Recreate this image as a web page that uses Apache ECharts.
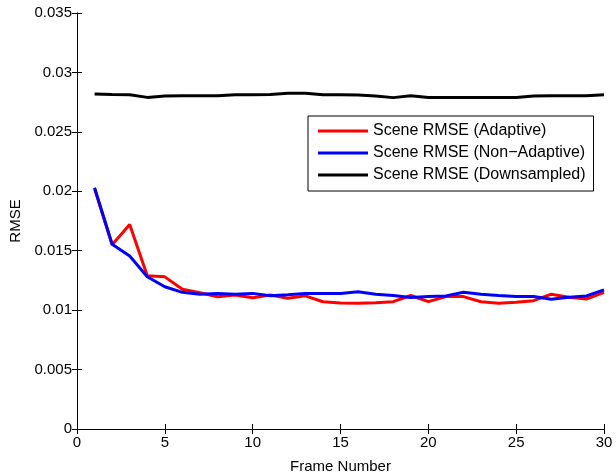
<!DOCTYPE html>
<html>
<head>
<meta charset="utf-8">
<script src="https://cdn.jsdelivr.net/npm/echarts@6/dist/echarts.min.js"></script>
<style>
html,body{margin:0;padding:0;background:#fff;}
#chart{width:616px;height:474px;}
</style>
</head>
<body>
<div id="chart"></div>
<script>
const frames = [1,2,3,4,5,6,7,8,9,10,11,12,13,14,15,16,17,18,19,20,21,22,23,24,25,26,27,28,29,30];
const adaptive = [0.0202,0.0155,0.0172,0.0129,0.0128,0.01175,0.01147,0.01113,0.01127,0.01105,0.01127,0.0110,0.0112,0.01071,0.01060,0.01057,0.01063,0.01071,0.01123,0.01072,0.01114,0.01114,0.01071,0.01057,0.01066,0.0108,0.01134,0.01109,0.01094,0.01149];
const nonAdaptive = [0.0203,0.01554,0.01455,0.01281,0.01197,0.0115,0.01133,0.01141,0.01133,0.01141,0.01122,0.0113,0.0114,0.0114,0.0114,0.01154,0.01134,0.01123,0.01106,0.01114,0.0112,0.01151,0.01134,0.01123,0.01114,0.01114,0.01091,0.01109,0.0112,0.01171];
const downsampled = [0.02818,0.02815,0.02813,0.0279,0.02802,0.02803,0.02803,0.02803,0.02813,0.02813,0.02815,0.02824,0.02824,0.02813,0.02812,0.0281,0.02802,0.02788,0.02804,0.0279,0.0279,0.0279,0.0279,0.0279,0.0279,0.02802,0.02803,0.02803,0.02803,0.02813];
const seriesNames = ['Scene RMSE (Adaptive)','Scene RMSE (Non\u2212Adaptive)','Scene RMSE (Downsampled)'];
const xTicks = [0,5,10,15,20,25,30];
const yTicks = [0,0.005,0.01,0.015,0.02,0.025,0.03,0.035];

const FONT = 'Liberation Sans, Arial, Helvetica, sans-serif';
const pair = (ys) => frames.map((f,i) => [f, ys[i]]);
const axisLine = {show:true, lineStyle:{color:'#000', width:1}};
const tick = {show:true, inside:true, length:5, lineStyle:{color:'#000', width:1}};

const chart = echarts.init(document.getElementById('chart'), null, {renderer:'canvas'});
chart.setOption({
  animation:false,
  backgroundColor:'#fff',
  grid:{left:77, right:12, top:13, bottom:45, containLabel:false, outerBoundsMode:'none'},
  legend:{
    orient:'vertical', left:308, top:116,
    data:seriesNames,
    icon:'rect', itemWidth:50, itemHeight:3, itemGap:6,
    padding:[7,8,8,10],
    borderColor:'#000', borderWidth:1, backgroundColor:'#fff',
    textStyle:{fontFamily:FONT, fontSize:16, color:'#000', lineHeight:16}
  },
  xAxis:[
    {type:'value', min:xTicks[0], max:xTicks[xTicks.length-1], interval:5, position:'bottom',
     name:'Frame Number', nameLocation:'middle', nameGap:30,
     nameTextStyle:{fontFamily:FONT, fontSize:15, color:'#000'},
     axisLine:axisLine, axisTick:tick, splitLine:{show:false},
     axisLabel:{fontFamily:FONT, fontSize:15, color:'#000', margin:6}},
    {type:'value', min:xTicks[0], max:xTicks[xTicks.length-1], interval:5, position:'top',
     axisLine:axisLine, axisTick:tick, splitLine:{show:false}, axisLabel:{show:false}}
  ],
  yAxis:[
    {type:'value', min:yTicks[0], max:yTicks[yTicks.length-1], interval:0.005, position:'left',
     name:'RMSE', nameLocation:'middle', nameGap:53, nameRotate:90,
     nameTextStyle:{fontFamily:FONT, fontSize:15, color:'#000'},
     axisLine:axisLine, axisTick:tick, splitLine:{show:false},
     axisLabel:{fontFamily:FONT, fontSize:15, color:'#000', margin:5,
       formatter:(v)=>String(parseFloat(v.toFixed(4)))}},
    {type:'value', min:yTicks[0], max:yTicks[yTicks.length-1], interval:0.005, position:'right',
     axisLine:axisLine, axisTick:tick, splitLine:{show:false}, axisLabel:{show:false}}
  ],
  series:[
    {name:seriesNames[0], type:'line', data:pair(adaptive), showSymbol:false, symbol:'none',
     lineStyle:{color:'#ff0000', width:3}, itemStyle:{color:'#ff0000'}},
    {name:seriesNames[1], type:'line', data:pair(nonAdaptive), showSymbol:false, symbol:'none',
     lineStyle:{color:'#0000ff', width:3}, itemStyle:{color:'#0000ff'}},
    {name:seriesNames[2], type:'line', data:pair(downsampled), showSymbol:false, symbol:'none',
     lineStyle:{color:'#000000', width:3}, itemStyle:{color:'#000000'}}
  ]
});
</script>
</body>
</html>
